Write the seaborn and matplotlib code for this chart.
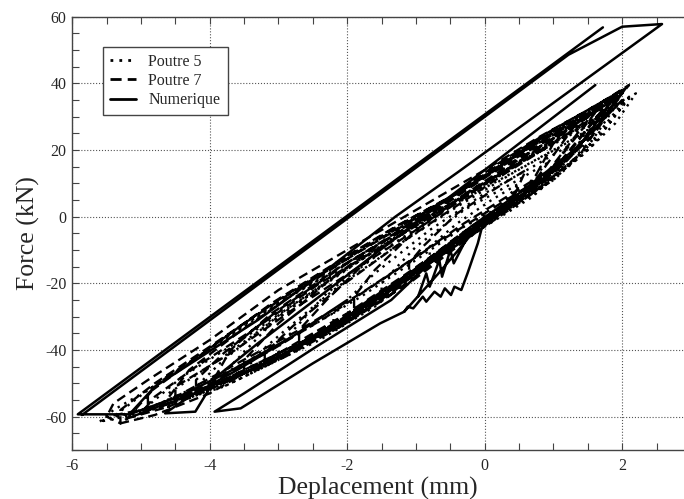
import pandas as pd
import seaborn as sns
import matplotlib
matplotlib.use("Agg")
import matplotlib.pyplot as plt
from matplotlib.ticker import MultipleLocator

# Poutre 5 (essai) : boucles successives, une boucle par ligne
p5_x = [-0.8, -0.4, 0.1, 0.5, 0.1, -0.4, -0.8, -0.8,
        -1.5, -1.0, -0.4, 0.3, 0.9, 0.4, -0.3, -1.0, -1.5, -1.5,
        -2.2, -1.6, -0.9, -0.2, 0.5, 0.9, 1.2, 0.7, 0.0, -0.8, -1.6, -2.2, -2.2,
        -3.0, -2.4, -1.6, -0.8, 0.0, 0.7, 1.1, 1.5, 1.0, 0.3, -0.5, -1.4, -2.3, -3.0, -3.0,
        -3.4, -2.8, -2.0, -1.2, -0.4, 0.4, 1.0, 1.6, 1.1, 0.4, -0.4, -1.3, -2.2, -2.9, -3.4, -3.4,
        -3.8, -3.1, -2.3, -1.5, -0.7, 0.1, 0.8, 1.3, 1.75, 1.2, 0.5, -0.3, -1.2, -2.2, -3.1, -3.8, -3.8,
        -4.4, -3.8, -3.0, -2.1, -1.2, -0.4, 0.3, 1.0, 1.5, 1.9, 1.4, 0.7, -0.1, -1.0, -1.9, -2.9, -3.8, -4.4,
        -4.6, -4.0, -3.2, -2.3, -1.4, -0.6, 0.2, 0.9, 1.5, 2.0, 1.5, 0.8, 0.0, -0.9, -1.8, -2.8, -3.8, -4.6, -4.6,
        -5.0, -4.4, -3.6, -2.7, -1.8, -1.0, -0.3, 0.5, 1.2, 1.7, 2.1,
        1.6, 0.9, 0.2, -0.6, -1.5, -2.4, -3.4, -4.4, -5.0,
        -5.4, -4.8, -4.0, -3.1, -2.2, -1.3, -0.5, 0.3, 1.0, 1.6, 2.1,
        1.7, 1.1, 0.4, -0.4, -1.2, -2.1, -3.1, -4.1, -4.9, -5.4,
        -5.6, -5.0, -4.2, -3.3, -2.4, -1.5, -0.7, 0.1, 0.8, 1.4, 1.9, 2.2,
        1.8, 1.2, 0.5, -0.3, -1.1, -2.0, -3.0, -4.0, -4.9, -5.4, -5.6]
p5_y = [-13, -7, 0, 10, 5, -2, -9, -13,
        -24, -17, -8, 2, 16, 10, 2, -9, -20, -24,
        -33, -26, -15, -4, 5, 12, 21, 15, 7, -4, -17, -29, -33,
        -43, -37, -27, -14, -3, 6, 14, 26, 20, 12, 3, -9, -23, -39, -43,
        -47, -40, -30, -19, -7, 3, 12, 27, 21, 13, 3, -9, -22, -34, -43, -47,
        -51, -44, -35, -24, -12, -1, 8, 17, 30, 24, 16, 6, -5, -18, -32, -47, -51,
        -55, -50, -42, -32, -20, -8, 2, 11, 21, 33, 27, 19, 9, -2, -14, -28, -43, -55,
        -57, -52, -44, -34, -22, -10, 1, 10, 21, 34, 28, 20, 10, -1, -13, -27, -42, -53, -57,
        -58.5, -53, -45, -35, -24, -13, -3, 6, 15, 25, 35.5,
        29, 21, 12, 2, -9, -21, -35, -48, -58.5,
        -60, -57, -51, -43, -33, -21, -9, 2, 11, 22, 36,
        31, 24, 15, 5, -4, -15, -27, -41, -52, -60,
        -61.5, -59, -53, -45, -36, -24, -12, -1, 9, 18, 28, 37,
        32, 25, 16, 6, -3, -14, -26, -40, -52, -58, -61.5]

# Poutre 7 (essai)
p7_x = [-1.1, -0.6, 0.0, 0.4, 0.6, 0.2, -0.4, -0.9, -1.1, -1.1,
        -1.9, -1.3, -0.6, 0.1, 0.6, 1.0, 0.5, -0.2, -1.0, -1.6, -1.9, -1.9,
        -2.7, -2.1, -1.4, -0.7, 0.0, 0.6, 1.3, 0.8, 0.1, -0.7, -1.6, -2.3, -2.7, -2.7,
        -3.2, -2.6, -1.9, -1.1, -0.4, 0.3, 0.9, 1.5, 1.0, 0.3, -0.5, -1.3, -2.1, -2.8, -3.2, -3.2,
        -3.5, -2.9, -2.1, -1.3, -0.6, 0.1, 0.8, 1.6, 1.1, 0.4, -0.4, -1.3, -2.2, -3.0, -3.5, -3.5,
        -4.0, -3.5, -2.7, -1.9, -1.1, -0.4, 0.3, 1.0, 1.75, 1.2, 0.5, -0.3, -1.1, -2.1, -3.1, -3.7, -4.0,
        -4.2, -3.6, -2.8, -2.0, -1.2, -0.5, 0.2, 0.9, 1.8, 1.3, 0.6, -0.2, -1.0, -2.0, -3.0, -3.8, -4.2, -4.2,
        -4.5, -3.9, -3.1, -2.3, -1.5, -0.7, 0.0, 0.7, 1.3, 1.85,
        1.3, 0.6, -0.2, -1.0, -1.9, -2.8, -3.7, -4.5, -4.5,
        -4.7, -4.1, -3.3, -2.4, -1.5, -0.7, 0.0, 0.7, 1.3, 1.9,
        1.4, 0.7, -0.1, -0.9, -1.8, -2.7, -3.6, -4.3, -4.7,
        -4.9, -4.3, -3.5, -2.6, -1.7, -0.9, -0.2, 0.5, 1.2, 1.95,
        1.5, 0.8, 0.0, -0.8, -1.7, -2.6, -3.5, -4.3, -4.9, -4.9,
        -5.0, -4.4, -3.6, -2.7, -1.8, -1.0, -0.3, 0.4, 1.1, 1.6, 2.0,
        1.5, 0.8, 0.1, -0.7, -1.5, -2.4, -3.3, -4.2, -4.8, -5.0,
        -5.2, -4.6, -3.8, -2.9, -2.0, -1.1, -0.4, 0.3, 1.0, 1.6, 2.05,
        1.5, 0.9, 0.2, -0.5, -1.3, -2.1, -3.1, -4.1, -4.7, -5.2,
        -5.3, -4.8, -4.0, -3.0, -2.0, -1.2, -0.5, 0.2, 0.9, 1.5, 2.1,
        1.6, 1.0, 0.3, -0.4, -1.2, -2.0, -3.0, -4.0, -4.8, -5.3, -5.3,
        -5.5, -5.0, -4.3, -3.4, -2.5, -1.6, -0.8, 0.0, 0.7, 1.4, 2.0,
        1.5, 0.8, 0.0, -1.0, -2.0, -3.0, -4.0, -4.9, -5.4, -5.5]
p7_y = [-17, -11, -2, 5, 14, 9, 1, -9, -14, -17,
        -28, -21, -11, -1, 7, 22, 16, 8, -4, -16, -24, -28,
        -38, -33, -24, -13, -2, 7, 27, 21, 13, 2, -11, -25, -34, -38,
        -45, -38, -28, -17, -6, 4, 13, 29, 22, 13, 2, -9, -21, -33, -41, -45,
        -47, -42, -33, -22, -10, 0, 10, 31, 25, 17, 7, -5, -18, -32, -43, -47,
        -51, -47, -39, -30, -20, -9, 2, 14, 33, 27, 19, 8, -3, -15, -29, -40, -51,
        -53, -48, -40, -30, -19, -8, 1, 11, 34, 28, 20, 10, -1, -14, -28, -41, -49, -53,
        -55, -49, -40, -30, -19, -8, 1, 10, 19, 35,
        27, 18, 7, -4, -16, -28, -41, -51, -55,
        -57, -52, -44, -35, -24, -12, -2, 8, 19, 36,
        30, 22, 11, 1, -10, -22, -35, -46, -57,
        -58, -54, -46, -37, -26, -14, -3, 6, 17, 37,
        31, 23, 12, 2, -9, -20, -32, -44, -53, -58,
        -59, -53, -44, -34, -23, -12, -2, 7, 16, 26, 37.5,
        30, 21, 12, 1, -9, -20, -33, -45, -54, -59,
        -60.5, -57, -50, -41, -30, -18, -7, 3, 13, 25, 38.5,
        32, 25, 16, 6, -3, -13, -26, -41, -49, -60.5,
        -62, -59.5, -53, -41, -29, -18, -8, 2, 12, 24, 39.5,
        33, 26, 17, 7, -2, -12, -25, -39, -50, -58, -62,
        -60, -58, -53, -46, -37, -26, -14, -3, 7, 19, 38,
        32, 24, 14, 2, -10, -22, -37, -49, -56, -60]

# Numerique (modele), une branche par bloc
num_branche = [1] * 26 + [2] * 13 + [3] * 12 + [4] * 13 + [5] * 4
num_x = [0, -0.1, -0.25, -0.34, -0.44, -0.49, -0.58, -0.64, -0.73, -0.85, -0.9, -1.04, -1.12, -1.17,
         -1.07, -0.68, -0.3, 0, -0.2, -0.45, -0.5, -0.62, -0.66, -0.8, -0.85, -0.97,
         -1.17, -1.52, -2.5, -3.55, -3.93, -3.5, -2.45, -1.36, -0.7, -0.2, 0.5, 1.3, 2.0,
         1.61, -0.38, -1.3, -2.3, -3.3, -3.9, -4.21, -4.65, -4.3, -3.6, -2.8, -2.0,
         -5.86, 1.22, 2.0, 2.58, -0.38, -1.3, -2.3, -3.3, -4.2, -4.8, -5.17, -5.92, 1.72,
         -5.17, -4.45, -3.72, -2.8]
num_y = [0, -8, -17, -22, -21, -23.5, -21.5, -24, -22.5, -25.5, -24, -27.5, -27, -28.5,
         -26.2, -17.2, -8, 0, -4, -14, -10, -18, -13, -21, -17, -24,
         -28.5, -32, -44, -57.5, -58.5, -53, -39, -25, -12, -3, 7, 20, 35,
         39.5, 8, -6.5, -22.3, -38, -48, -58.5, -59, -54, -46, -36, -25,
         -59.5, 48.6, 57.0, 57.8, 13.5, 0, -16, -31, -43, -51, -59.3, -59.3, 56.8,
         -59.3, -54, -46.5, -36]

names = ["Poutre 5", "Poutre 7", "Numerique"]

sns.set_style("ticks")
plt.rcParams["font.family"] = ["Liberation Serif", "DejaVu Serif"]
plt.rcParams["axes.unicode_minus"] = False

df = pd.concat([
    pd.DataFrame({"x": p5_x, "y": p5_y, "serie": names[0], "branche": 0}),
    pd.DataFrame({"x": p7_x, "y": p7_y, "serie": names[1], "branche": 0}),
    pd.DataFrame({"x": num_x, "y": num_y, "serie": names[2], "branche": num_branche}),
], ignore_index=True)

fig = plt.figure(figsize=(6.84, 4.99), dpi=100)
ax = fig.add_axes([0.1057, 0.0982, 0.8943, 0.8683])

sns.lineplot(data=df, x="x", y="y", style="serie", style_order=names, units="branche",
             dashes={"Poutre 5": (1, 2.2), "Poutre 7": (4, 2.2), "Numerique": ""},
             color="black", sort=False, estimator=None, lw=1.7, ax=ax)

# trait plein un peu plus epais
for line in ax.lines:
    if line.get_linestyle() == "-":
        line.set_linewidth(1.8)

ax.set_xlim(-6, 2.9)
ax.set_ylim(-70, 60)
ax.xaxis.set_major_locator(MultipleLocator(2))
ax.xaxis.set_minor_locator(MultipleLocator(0.5))
ax.yaxis.set_major_locator(MultipleLocator(20))
ax.yaxis.set_minor_locator(MultipleLocator(5))
ax.tick_params(which="both", direction="in", top=True, right=False, length=5,
               width=0.8, color="#444444", labelsize=11.5)
ax.tick_params(axis="x", pad=6)
ax.tick_params(axis="y", pad=4)
ax.grid(True, which="major", linestyle=":", color="#555555", linewidth=0.8)
ax.set_axisbelow(True)
ax.spines["right"].set_visible(False)
for s in ["left", "bottom", "top"]:
    ax.spines[s].set_color("#444444")
    ax.spines[s].set_linewidth(1)

ax.set_xlabel("Deplacement (mm)", fontsize=18.5, labelpad=2)
ax.set_ylabel("Force (kN)", fontsize=18.5, labelpad=4)

old = ax.get_legend()
handles = old.legend_handles
labels = [t.get_text() for t in old.get_texts()]
leg = ax.legend(handles, labels, loc="upper left", bbox_to_anchor=(0.05, 0.931),
                borderaxespad=0, fontsize=11.5, frameon=True, fancybox=False,
                framealpha=1, edgecolor="#444444", handlelength=1.6,
                handletextpad=0.8, labelspacing=0.2, borderpad=0.45)
leg.get_frame().set_linewidth(1)
for h in leg.get_lines():
    h.set_color("black")
    h.set_linewidth(2)

fig.savefig("out.png", dpi=100)
